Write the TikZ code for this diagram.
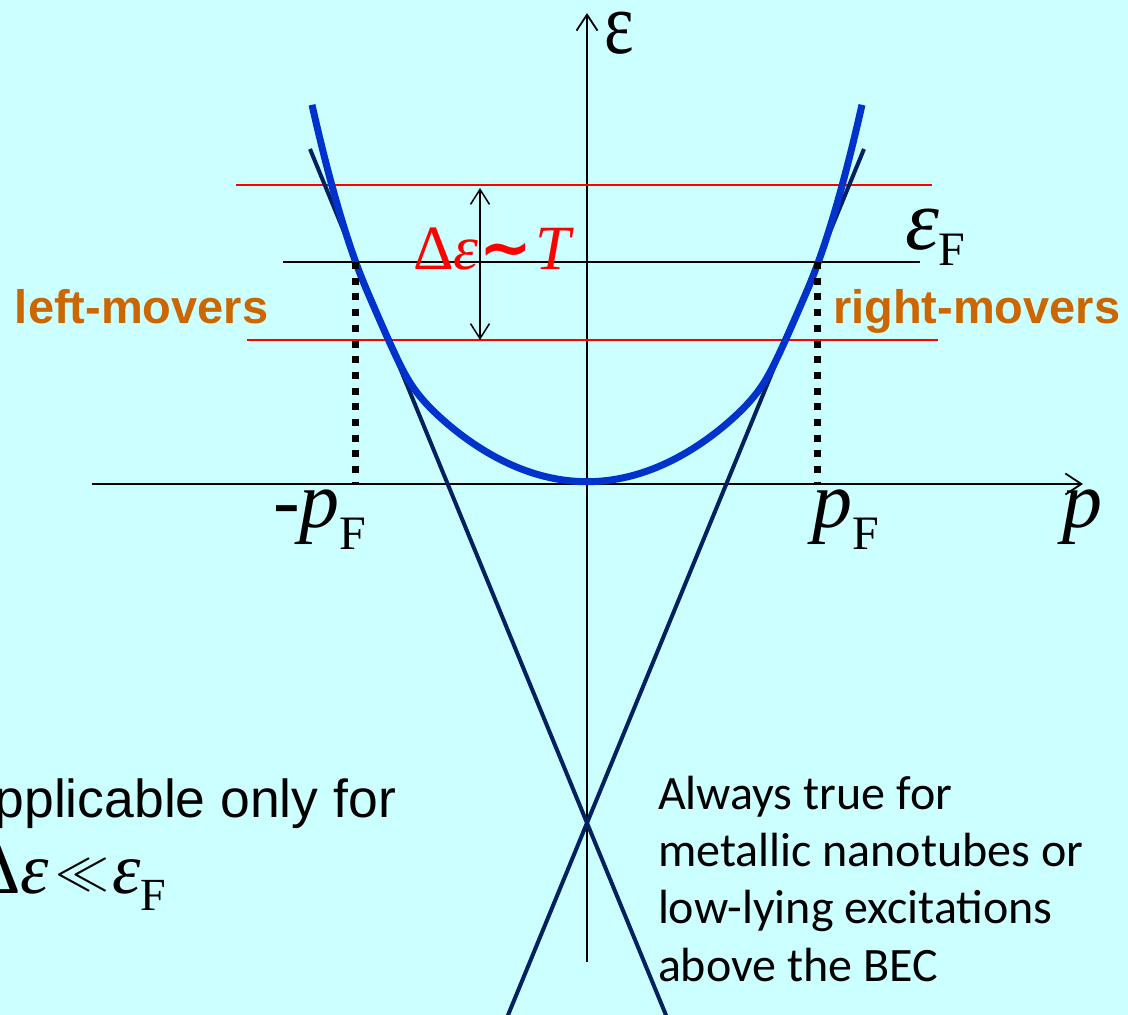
\documentclass[tikz,border=0pt]{standalone}
\usepackage{graphicx}
\usepackage{fontspec}
\setmainfont{Liberation Serif}
\newfontfamily\arialf{Liberation Sans}
\newfontfamily\calib{Carlito}
\newfontfamily\symf{DejaVu Sans}
\usetikzlibrary{arrows.meta}
\definecolor{bgcyan}{RGB}{204,255,255}
\definecolor{curveblue}{RGB}{0,51,204}
\definecolor{navyline}{RGB}{0,32,96}
\definecolor{moverorange}{RGB}{204,102,0}
\newcommand{\fs}[1]{\fontsize{#1}{#1}\selectfont}
\begin{document}
\begin{tikzpicture}[x=1pt,y=-1pt,
  declare function={
    bpar(\d)=29.0*(\d/100)*(\d/100);
    blin(\d)=2.36*\d-330;
    bdif(\d)=(bpar(\d)-blin(\d))/10;
    bext(\d)=max(0,\d-220);
    bf(\d)=(bpar(\d)+blin(\d)+10*sqrt(bdif(\d)*bdif(\d)+4))/2+0.0189*bext(\d)*bext(\d);
  },
  axisline/.style={line width=1.8pt,-{Straight Barb[length=16pt,width=21pt,line width=1.8pt]}},
  gaparrow/.style={line width=1.5pt,{Straight Barb[length=15pt,width=19pt,line width=1.5pt]}-{Straight Barb[length=15pt,width=19pt,line width=1.5pt]}},
  redline/.style={red,line width=2pt},
  fermiline/.style={black,line width=1.5pt},
  asymline/.style={navyline,line width=4pt},
  bandcurve/.style={curveblue,line width=7pt},
  dotline/.style={black,line width=7pt,dash pattern=on 7pt off 8.7pt},
  lbl/.style={inner sep=0pt,outer sep=0pt},
  mover/.style={lbl,moverorange,font=\arialf\bfseries\fs{47}}
]
\fill[bgcyan] (0,0) rectangle (1128,1015);
\useasboundingbox (0,0) rectangle (1128,1015);
\begin{scope}
\clip (0,0) rectangle (1128,1015);
% coordinates
\coordinate (ybot) at (587,962);
\coordinate (ytop) at (587,13);
\coordinate (xleft) at (92,484);
\coordinate (xright) at (1083,484);
\coordinate (rtopA) at (236,185);
\coordinate (rtopB) at (932,185);
\coordinate (rbotA) at (247,340);
\coordinate (rbotB) at (938,340);
\coordinate (fA) at (283,262);
\coordinate (fB) at (920,262);
\coordinate (l1a) at (310,149);
\coordinate (l1b) at (668,1020);
\coordinate (l2a) at (864,149);
\coordinate (l2b) at (506,1020);
\coordinate (gtop) at (480,188);
\coordinate (gbot) at (480,340);
\coordinate (dLtop) at (355,262);
\coordinate (dLbot) at (355,484);
\coordinate (dRtop) at (817,262);
\coordinate (dRbot) at (817,484);
% axes
\draw[axisline] (ybot) -- (ytop);
\draw[axisline] (xleft) -- (xright);
% red lines and Fermi level
\draw[redline] (rtopA) -- (rtopB);
\draw[redline] (rbotA) -- (rbotB);
\draw[fermiline] (fA) -- (fB);
% linearised spectrum
\draw[asymline] (l1a) -- (l1b);
\draw[asymline] (l2a) -- (l2b);
% band
\draw[bandcurve] plot[domain=-275:275,samples=221,variable=\t] ({587+\t},{482-bf(abs(\t))});
% dotted verticals
\draw[dotline] (dLtop) -- (dLbot);
\draw[dotline] (dRtop) -- (dRbot);
% gap arrow
\draw[gaparrow] (gtop) -- (gbot);
% labels
\node[lbl,anchor=base west,xscale=0.8,text height=42pt,text depth=0pt] (epslabel) at (604,53) {\fs{88}ε};
\node[lbl,anchor=base west] (eFlabel) at (905,249) {\fs{86}\textit{ε}\raisebox{-16pt}{\fs{48}F}};
\node[lbl,anchor=base west] (mpF) at (273,527) {\fs{80}-\textit{p}\raisebox{-22pt}{\fs{48}F}};
\node[lbl,anchor=base west] (pF) at (812,527) {\fs{80}\textit{p}\raisebox{-22pt}{\fs{48}F}};
\node[lbl,anchor=base west] (plabel) at (1062,527) {\fs{80}\textit{p}};
\node[lbl,anchor=base west,red] (dT) at (413,269) {\fs{63}Δ\textit{ε}\kern1pt{\symf\bfseries ∼}\kern3pt\textit{T}};
\node[mover,anchor=base west] (leftm) at (15,323) {left-movers};
\node[mover,anchor=base west] (rightm) at (833,323) {right-movers};
\node[lbl,anchor=base east,font=\arialf\fs{53.5}] (appl) at (396,817) {Applicable only for};
\node[lbl,anchor=base east] (cond) at (166,893) {\fs{72}Δ\textit{ε}\kern6pt\raisebox{5pt}{\scalebox{5.4}{\fs{10}$\ll$}}\kern3pt\textit{ε}\raisebox{-17pt}{\fs{46}F}};
\node[lbl,anchor=north west,align=left,font=\calib\fontsize{48}{57.3}\selectfont] (always) at (658,776)
 {Always true for\\metallic nanotubes or\\low-lying excitations\\above the BEC};
\end{scope}
\end{tikzpicture}
\end{document}
